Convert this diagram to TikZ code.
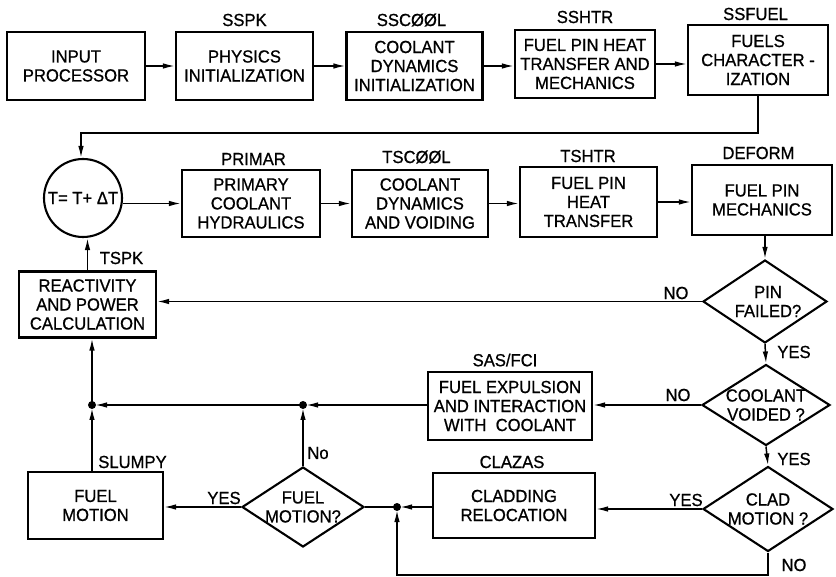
\documentclass[tikz,border=0pt]{standalone}
\usepackage{fontspec}
\setmainfont{Liberation Sans}[FakeStretch=0.95,FakeBold=0.8]
\usetikzlibrary{arrows.meta,shapes.geometric}
\begin{document}
\begin{tikzpicture}[x=1pt,y=-1pt,
  every node/.style={font=\fontsize{17.5}{19}\selectfont},
  box/.style={draw, line width=2.1pt, align=center, inner sep=1pt},
  dia/.style={draw, diamond, line width=2.1pt, inner sep=0pt},
  lbl/.style={inner sep=0pt, align=center},
  conn/.style={line width=1.5pt},
  arr/.style={conn, -{Latex[length=12pt,width=5.5pt]}},
  dot/.style={fill=black}
]
\useasboundingbox (0,0) rectangle (836,577);

% top row
\node[box, minimum width=138pt, minimum height=68pt] (inp) at (76,66) {INPUT\\PROCESSOR};
\node[box, minimum width=137pt, minimum height=68pt] (phys) at (244.5,66) {PHYSICS\\INITIALIZATION};
\node[box, minimum width=136pt, minimum height=68pt] (cdi) at (414.5,66) {COOLANT\\DYNAMICS\\INITIALIZATION};
\node[box, minimum width=140pt, minimum height=68pt] (sshtr) at (585,64) {FUEL PIN HEAT\\TRANSFER AND\\MECHANICS};
\node[box, minimum width=140pt, minimum height=70pt] (ssfuel) at (758,60) {FUELS\\CHARACTER -\\IZATION};

\node[lbl] (lsspk) at (244.5,20) {SSPK};
\node[lbl] (lsscool) at (411.5,20) {SSCØØL};
\node[lbl] (lsshtr) at (585,17) {SSHTR};
\node[lbl] (lssfuel) at (755.5,14) {SSFUEL};

% middle row
\node[circle, draw, line width=2.1pt, minimum size=78pt, inner sep=0pt] (circ) at (83,198) {T= T+ ΔT};
\node[box, minimum width=138pt, minimum height=67pt] (primar) at (251,203.5) {PRIMARY\\COOLANT\\HYDRAULICS};
\node[box, minimum width=136pt, minimum height=67pt] (tscool) at (420,203.5) {COOLANT\\DYNAMICS\\AND VOIDING};
\node[box, minimum width=137pt, minimum height=70pt] (tshtr) at (588.5,202) {FUEL PIN\\HEAT\\TRANSFER};
\node[box, minimum width=140pt, minimum height=70pt] (deform) at (762,200) {FUEL PIN\\MECHANICS};

\node[lbl] (lprimar) at (253.5,159) {PRIMAR};
\node[lbl] (ltscool) at (416.5,157) {TSCØØL};
\node[lbl] (ltshtr) at (588,156) {TSHTR};
\node[lbl] (ldeform) at (758.5,153) {DEFORM};

% left column
\node[box, minimum width=137pt, minimum height=66pt] (react) at (87.5,304.5) {REACTIVITY\\AND POWER\\CALCULATION};
\node[lbl] (ltspk) at (121.5,258) {TSPK};

% decisions on the right
\node[dia, minimum width=124pt, minimum height=83pt] (pf) at (765,301.5) {};
\node[lbl] (pft) at ([xshift=3pt]pf.center) {PIN\\FAILED?};
\node[dia, minimum width=128pt, minimum height=81pt] (cv) at (766,405) {};
\node[lbl] (cvt) at (cv.center) {COOLANT\\VOIDED ?};
\node[dia, minimum width=130pt, minimum height=85pt] (cm) at (768,509) {};
\node[lbl] (cmt) at (cm.center) {CLAD\\MOTION ?};

% lower boxes
\node[box, minimum width=164pt, minimum height=68pt] (fexp) at (510,406) {FUEL EXPULSION\\AND INTERACTION\\WITH~~COOLANT};
\node[lbl] (lsas) at (505,360) {SAS/FCI};
\node[box, minimum width=162pt, minimum height=65pt] (clad) at (514,505.5) {CLADDING\\RELOCATION};
\node[lbl] (lclazas) at (512,462) {CLAZAS};
\node[dia, minimum width=122pt, minimum height=80pt] (fmd) at (303,507) {};
\node[lbl] (fmdt) at (fmd.center) {FUEL\\MOTION?};
\node[box, minimum width=135pt, minimum height=67pt] (fm) at (95.5,505.5) {FUEL\\MOTION};
\node[lbl] (lslumpy) at (132.5,462) {SLUMPY};

% branch labels
\node[lbl] (lno1) at (676,293) {NO};
\node[lbl] (lno2) at (678,395) {NO};
\node[lbl] (lyes1) at (686,500) {YES};
\node[lbl] (lyes2) at (224,498) {YES};
\node[lbl] (lno3) at (318,453) {No};
\node[lbl] (lyes3) at (794,352) {YES};
\node[lbl] (lyes4) at (794,459) {YES};
\node[lbl] (lno4) at (794,565) {NO};

% junction points
\coordinate (dL) at (92,405);
\coordinate (dM) at (303,405);
\coordinate (dR) at (397,507);
\coordinate (lp) at (81,133);
\coordinate (bl) at (397,575);

% connectors top row
\draw[arr] (inp.east) -- (inp.east -| phys.west);
\draw[arr] (phys.east) -- (phys.east -| cdi.west);
\draw[arr] (cdi.east) -- (cdi.east -| sshtr.west);
\draw[arr] (sshtr.east) -- (sshtr.east -| ssfuel.west);
\draw[arr] (ssfuel.south) |- (lp) -- (lp |- circ.north);

% middle row
\draw[arr] (circ.east |- primar.west) -- (primar.west);
\draw[arr] (primar.east) -- (primar.east -| tscool.west);
\draw[arr] (tscool.east) -- (tscool.east -| tshtr.west);
\draw[arr] (tshtr.east) -- (tshtr.east -| deform.west);
\draw[arr] (pf.north |- deform.south) -- (pf.north);

% decisions
\draw[arr] (pf.south) -- (cv.north);
\draw[arr] (cv.south) -- (cm.north);
\draw[arr] (pf.west) -- (pf.west -| react.east);
\draw[arr] (cv.west) -- (cv.west -| fexp.east);
\draw[arr] (cm.west) -- (cm.west -| clad.east);

% collection lines
\draw[arr, shorten >=3pt] (fexp.west |- dM) -- (dM);
\draw[arr, shorten >=3pt] (dM) -- (dL);
\draw[arr, shorten >=3pt] (fmd.north) -- (dM);
\draw[arr, shorten >=3pt] (fm.north -| dL) -- (dL);
\draw[arr] (dL) -- (dL |- react.south);
\draw[arr] (react.north) -- (react.north |- circ.south);

\draw[arr, shorten >=3pt] (clad.west |- dR) -- (dR);
\draw[conn] (dR) -- (fmd.east);
\draw[arr] (fmd.west) -- (fmd.west -| fm.east);
\draw[arr, shorten >=3pt] (cm.south) -- (cm.south |- bl) -- (bl) -- (dR);

\fill[dot] (dL) circle (4pt);
\fill[dot] (dM) circle (4pt);
\fill[dot] (dR) circle (4pt);
\end{tikzpicture}
\end{document}
